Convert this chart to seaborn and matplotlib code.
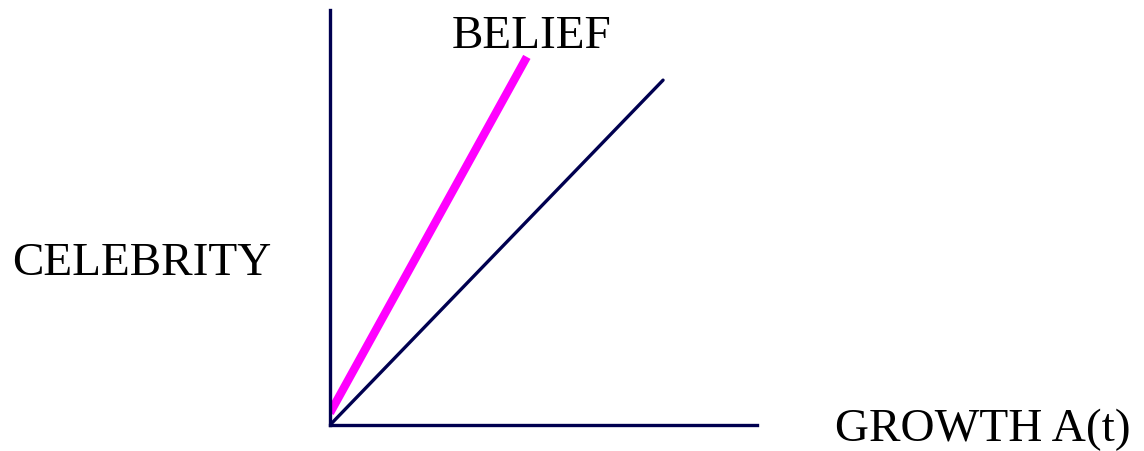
import numpy as np
import pandas as pd
import seaborn as sns
import matplotlib.pyplot as plt

# line data (abstract units, axes run 0..10 on both sides)
growth_x = [0.0, 7.8]
growth_y = [0.0, 8.31]
belief_x = [0.0, 4.61]
belief_y = [0.29, 8.87]

labels = {"belief": "BELIEF", "ylab": "CELEBRITY", "xlab": "GROWTH A(t)"}

navy = "#000050"
magenta = "#FF00FF"

sns.set_style("white")
plt.rcParams['font.family'] = ['Liberation Serif', 'DejaVu Serif']

fig = plt.figure(figsize=(11.44, 4.51), dpi=100)
ax = fig.add_axes([330 / 1144, 26 / 451, 427 / 1144, 415 / 451])

df_g = pd.DataFrame({"x": growth_x, "y": growth_y})
df_b = pd.DataFrame({"x": belief_x, "y": belief_y})
sns.lineplot(data=df_g, x="x", y="y", ax=ax, color=navy, linewidth=2.4)
sns.lineplot(data=df_b, x="x", y="y", ax=ax, color=magenta, linewidth=6,
             solid_capstyle="butt")

ax.set_xlim(0, 10)
ax.set_ylim(0, 10)
ax.set_xticks([])
ax.set_yticks([])
ax.set_xlabel("")
ax.set_ylabel("")
for s in ["top", "right"]:
    ax.spines[s].set_visible(False)
for s in ["left", "bottom"]:
    ax.spines[s].set_color(navy)
    ax.spines[s].set_linewidth(2.4)
ax.patch.set_alpha(0)

fs = 34
fig.text(452 / 1144, 1 - 48 / 451, labels["belief"], fontsize=fs, va="baseline", ha="left", color="black")
fig.text(12 / 1144, 1 - 275 / 451, labels["ylab"], fontsize=fs, va="baseline", ha="left", color="black")
fig.text(835 / 1144, 1 - 441 / 451, labels["xlab"], fontsize=fs, va="baseline", ha="left", color="black")

fig.savefig("out.png", dpi=100)
